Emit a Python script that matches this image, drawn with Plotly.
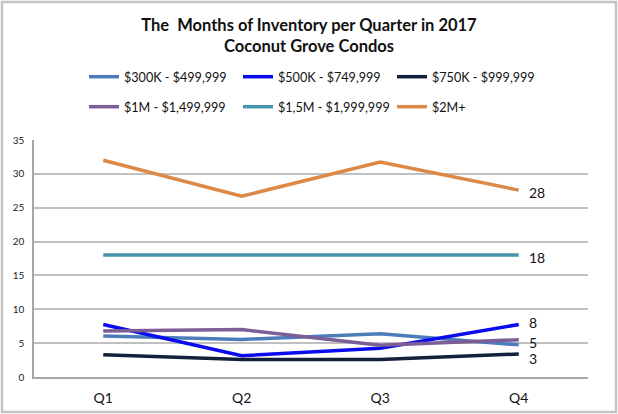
import plotly.graph_objects as go

quarters = ["Q1", "Q2", "Q3", "Q4"]

series_names = [
    "$300K - $499,999",
    "$500K - $749,999",
    "$750K - $999,999",
    "$1M - $1,499,999",
    "$1,5M - $1,999,999",
    "$2M+",
]
moi_300k = [6.05, 5.55, 6.4, 4.75]
moi_500k = [7.75, 3.15, 4.25, 7.75]
moi_750k = [3.3, 2.6, 2.6, 3.4]
moi_1m = [6.8, 7.0, 4.7, 5.5]
moi_15m = [18.0, 18.0, 18.0, 18.0]
moi_2m = [32.0, 26.7, 31.75, 27.6]

colors = ["#4C7DBA", "#0B0BEF", "#14213A", "#7B5E96", "#4596AD", "#DD8844"]
# end-of-line labels: which series, and a small vertical nudge so they don't collide
show_label = [True, True, True, False, True, True]
label_nudge = [2, 2, -5, 0, -2, -2]

all_values = [moi_300k, moi_500k, moi_750k, moi_1m, moi_15m, moi_2m]

FONT = "Lato"

fig = go.Figure()
for i, (name, vals) in enumerate(zip(series_names, all_values)):
    fig.add_trace(go.Scatter(
        x=quarters, y=vals, name=name,
        mode="lines",
        line=dict(color=colors[i], width=3.5),
        legend="legend" if i < 3 else "legend2",
    ))
    if show_label[i]:
        fig.add_annotation(x=quarters[-1], y=vals[-1], text=f"{vals[-1]:.0f}",
                           showarrow=False, xanchor="left", yanchor="middle",
                           xshift=8, yshift=label_nudge[i],
                           font=dict(size=14, color="#111111", family=FONT))

# page border
fig.add_shape(type="rect", xref="paper", yref="paper",
              x0=-0.0578, x1=1.0505, y0=-0.148, y1=1.582,
              line=dict(color="#C4C4C4", width=2.5), layer="below")

leg = dict(orientation="h", xanchor="left", yanchor="middle",
           entrywidth=109, entrywidthmode="pixels", itemwidth=30,
           font=dict(size=12.6, family=FONT, color="#111111"),
           bgcolor="rgba(0,0,0,0)", traceorder="normal")

fig.update_layout(
    width=618, height=414,
    margin=dict(l=34, r=30, t=140, b=37),
    paper_bgcolor="white", plot_bgcolor="white",
    title=dict(text="The \u00a0Months of Inventory per Quarter in 2017<br>Coconut Grove Condos",
               x=0.5, xanchor="center", y=1 - 31 / 414, yanchor="middle",
               font=dict(size=16.5, family=FONT, color="#111111", weight="bold")),
    legend=dict(leg, x=(84 - 34) / 554, y=(377 - 77) / 237),
    legend2=dict(leg, x=(84 - 34) / 554, y=(377 - 107) / 237),
    showlegend=True,
    xaxis=dict(range=[-0.5, 3.5], showgrid=False, showline=True, linecolor="#A6A6A6",
               linewidth=1.5, ticks="", tickfont=dict(size=14, family=FONT, color="#111111"),
               ticklabelstandoff=7, zeroline=False, automargin=False),
    yaxis=dict(range=[0, 35], dtick=5, showgrid=True, gridcolor="#C0C0C0", gridwidth=1.5,
               showline=True, linecolor="#A6A6A6", linewidth=1.5, ticks="",
               tickfont=dict(size=10, family=FONT, color="#222222"),
               ticklabelstandoff=6, zeroline=False, automargin=False),
)

fig.write_html("out.html", config={"displayModeBar": False},
               post_script="document.body.style.margin='0px';")
